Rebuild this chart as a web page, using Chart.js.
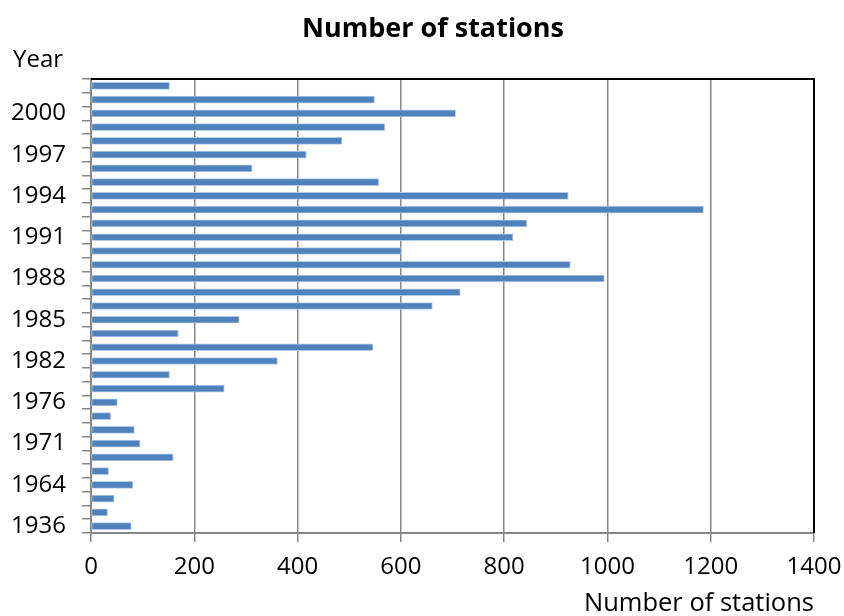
<!DOCTYPE html>
<html>
<head>
<meta charset="utf-8">
<script src="https://cdn.jsdelivr.net/npm/chart.js@4/dist/chart.umd.min.js"></script>
<style>
  html, body { margin: 0; padding: 0; background: #ffffff; }
  #wrap { width: 844px; height: 616px; }
</style>
</head>
<body>
<div id="wrap"><canvas id="chart" width="844" height="616"></canvas></div>
<script>
// Station counts per year (oldest first)
const years = [
  '1936', '1950', '1960', '1964', '1966', '1968', '1971', '1973', '1975',
  '1976', '1978', '1980', '1982', '1983', '1984', '1985', '1986', '1987',
  '1988', '1989', '1990', '1991', '1992', '1993', '1994', '1995', '1996',
  '1997', '1998', '1999', '2000', '2001', '2002'
];
const stations = [
  78, 32, 45, 81, 34, 159, 95, 84, 38,
  51, 258, 152, 361, 546, 169, 287, 661, 715,
  994, 928, 601, 817, 844, 1186, 924, 557, 312,
  417, 486, 569, 706, 549, 152
];
const xTicks = [0, 200, 400, 600, 800, 1000, 1200, 1400];

const FONT = '"Open Sans", "DejaVu Sans", sans-serif';
const AXIS_GRAY = '#868686';

// black frame along the top and right edges of the plot area
const frame = {
  id: 'frame',
  afterDraw(chart) {
    const { ctx, chartArea: a } = chart;
    ctx.save();
    ctx.strokeStyle = '#000000';
    ctx.lineWidth = 2;
    ctx.beginPath();
    ctx.moveTo(a.left, a.top);
    ctx.lineTo(a.right, a.top);
    ctx.lineTo(a.right, a.bottom);
    ctx.stroke();
    ctx.restore();
  }
};

// horizontal "Year" caption above the category axis
const yearCaption = {
  id: 'yearCaption',
  afterDraw(chart) {
    const { ctx } = chart;
    ctx.save();
    ctx.fillStyle = '#000000';
    ctx.font = '24px ' + FONT;
    ctx.textAlign = 'left';
    ctx.textBaseline = 'middle';
    ctx.fillText('Year', 13, 60);
    ctx.restore();
  }
};

// centre the chart title a little right of the canvas middle
const titleBox = {
  id: 'titleBox',
  afterLayout(chart) {
    const t = chart.titleBlock;
    if (t) {
      t.left = 52;
      t.right = 814;
      t.width = t.right - t.left;
    }
  }
};

new Chart(document.getElementById('chart'), {
  type: 'bar',
  data: {
    labels: years,
    datasets: [{
      data: stations,
      backgroundColor: '#4F81BD',
      borderColor: '#B4C8E2',
      borderWidth: 1,
      borderSkipped: false,
      barThickness: 7
    }]
  },
  options: {
    indexAxis: 'y',
    responsive: false,
    animation: false,
    devicePixelRatio: 1,
    layout: { padding: { left: 0, right: 30, top: 0, bottom: 0 } },
    plugins: {
      legend: { display: false },
      tooltip: { enabled: false },
      title: {
        display: true,
        text: 'Number of stations',
        color: '#000000',
        font: { family: FONT, size: 27, weight: 'bold', lineHeight: 1.2 },
        padding: { top: 13, bottom: 33.6 }
      }
    },
    scales: {
      x: {
        min: 0,
        max: 1400,
        afterBuildTicks(scale) { scale.ticks = xTicks.map(v => ({ value: v })); },
        ticks: {
          color: '#000000',
          font: { family: FONT, size: 24 },
          padding: 11,
          maxRotation: 0,
          callback: v => String(v)
        },
        grid: { color: AXIS_GRAY, lineWidth: 1.5, tickLength: 9 },
        border: { color: AXIS_GRAY, width: 2 },
        title: {
          display: true,
          text: 'Number of stations',
          align: 'end',
          color: '#000000',
          font: { family: FONT, size: 25.5, lineHeight: 1.0 },
          padding: 0
        },
        afterFit(scale) {
          scale.height = 83;
          scale.paddingLeft = 0;
          scale.paddingRight = 0;
        }
      },
      y: {
        reverse: true,
        ticks: {
          autoSkip: false,
          color: '#000000',
          font: { family: FONT, size: 24 },
          padding: 16,
          callback: (v, i) => (i % 3 === 0 ? years[i] : '')
        },
        grid: { drawOnChartArea: false, offset: true, tickLength: 9, color: AXIS_GRAY, lineWidth: 1.5 },
        border: { color: AXIS_GRAY, width: 2 },
        afterFit(scale) { scale.width = 91; }
      }
    }
  },
  plugins: [frame, yearCaption, titleBox]
});
</script>
</body>
</html>
